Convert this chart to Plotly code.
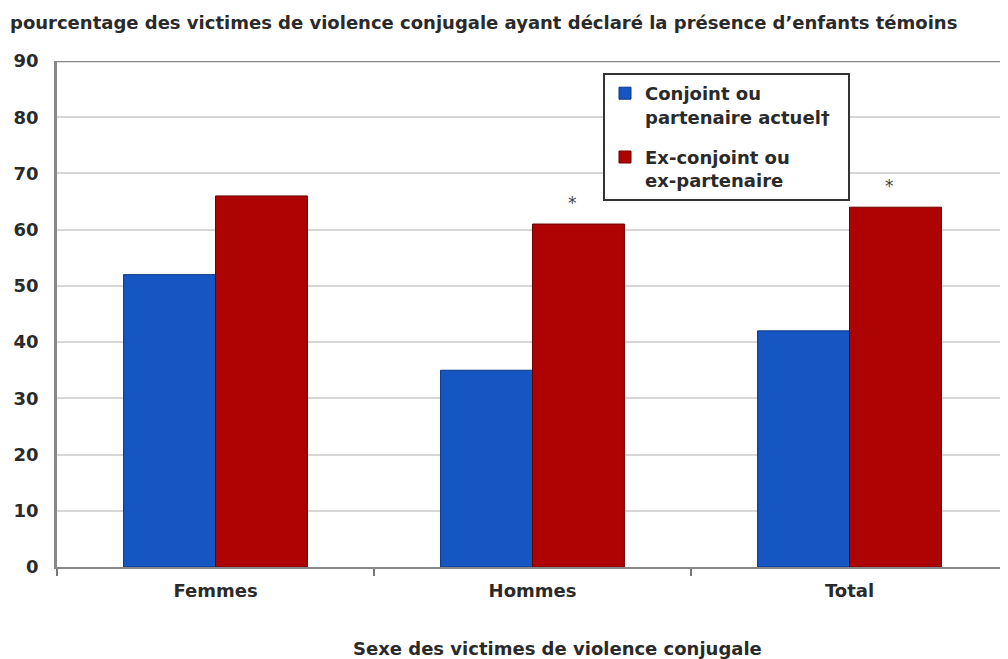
import plotly.graph_objects as go

categories = ["Femmes", "Hommes", "Total"]
actuel = [52, 35, 42]
ex = [66, 61, 64]
ex_marks = ["", "*", "*"]
y_ticks = [0, 10, 20, 30, 40, 50, 60, 70, 80, 90]

F = "DejaVu Sans, Verdana, sans-serif"
TXT = "#2a2a2a"

W, H = 1000, 651
L, R, T, B = 49, 0, 53, 92
PW, PH = W - L - R, H - T - B

fig = go.Figure()
fig.add_trace(go.Bar(
    x=categories, y=actuel, name="Conjoint ou<br>partenaire actuel†\u00a0\u00a0",
    legendgroup="a",
    marker=dict(color="#1656c2", line=dict(color="#0a3684", width=1)),
))
fig.add_trace(go.Bar(
    x=categories, y=ex, name="Ex-conjoint ou<br>ex-partenaire",
    legendgroup="b",
    marker=dict(color="#ad0303", line=dict(color="#6e0000", width=1)),
))

annotations = [
    dict(text="pourcentage des victimes de violence conjugale ayant déclaré la présence d’enfants témoins",
         xref="paper", yref="paper", x=-L / PW, y=1 + 39 / PH, xanchor="left", yanchor="middle",
         showarrow=False, font=dict(size=18, family=F, color=TXT, weight="bold")),
    dict(text="Sexe des victimes de violence conjugale",
         xref="paper", yref="paper", x=(549 - L) / PW, y=-81 / PH, xanchor="center", yanchor="middle",
         showarrow=False, font=dict(size=18, family=F, color=TXT, weight="bold")),
]
for cat, val, mark in zip(categories, ex, ex_marks):
    if mark:
        annotations.append(dict(text=mark, x=cat, y=val, xref="x", yref="y",
                                xshift=40, yshift=21, showarrow=False,
                                font=dict(size=17, family=F, color="#444444")))

fig.update_layout(
    width=W, height=H,
    margin=dict(l=L, r=R, t=T, b=B, autoexpand=False),
    paper_bgcolor="white", plot_bgcolor="white",
    barmode="group", bargap=0.42, bargroupgap=0,
    font=dict(family=F, color=TXT),
    showlegend=True,
    legend=dict(
        x=(595 - L) / PW, y=1 - (65 - T) / PH, xanchor="left", yanchor="top",
        bordercolor="#333333", borderwidth=2, bgcolor="white",
        font=dict(size=18, family=F, color=TXT, weight="bold"),
        tracegroupgap=14, itemwidth=30, traceorder="grouped", valign="top",
    ),
    annotations=annotations,
)
fig.update_xaxes(
    showline=True, linecolor="#888888", linewidth=2,
    ticks="outside", ticklen=7, tickcolor="#777777", tickwidth=1.5, tickson="boundaries",
    tickfont=dict(size=18, family=F, color=TXT, weight="bold"), ticklabelstandoff=6,
    showgrid=False,
)
fig.update_yaxes(
    range=[0, 90], tickvals=y_ticks, showline=True, linecolor="#888888", linewidth=2.5,
    gridcolor="#d6d6d6", gridwidth=2,
    ticks="", tickfont=dict(size=18, family=F, color=TXT, weight="bold"), ticklabelstandoff=12,
    zeroline=False,
)
fig.add_shape(type="line", xref="paper", yref="y", x0=0, x1=1, y0=90, y1=90,
              line=dict(color="#888888", width=2.5))

fig.write_html("out.html")
